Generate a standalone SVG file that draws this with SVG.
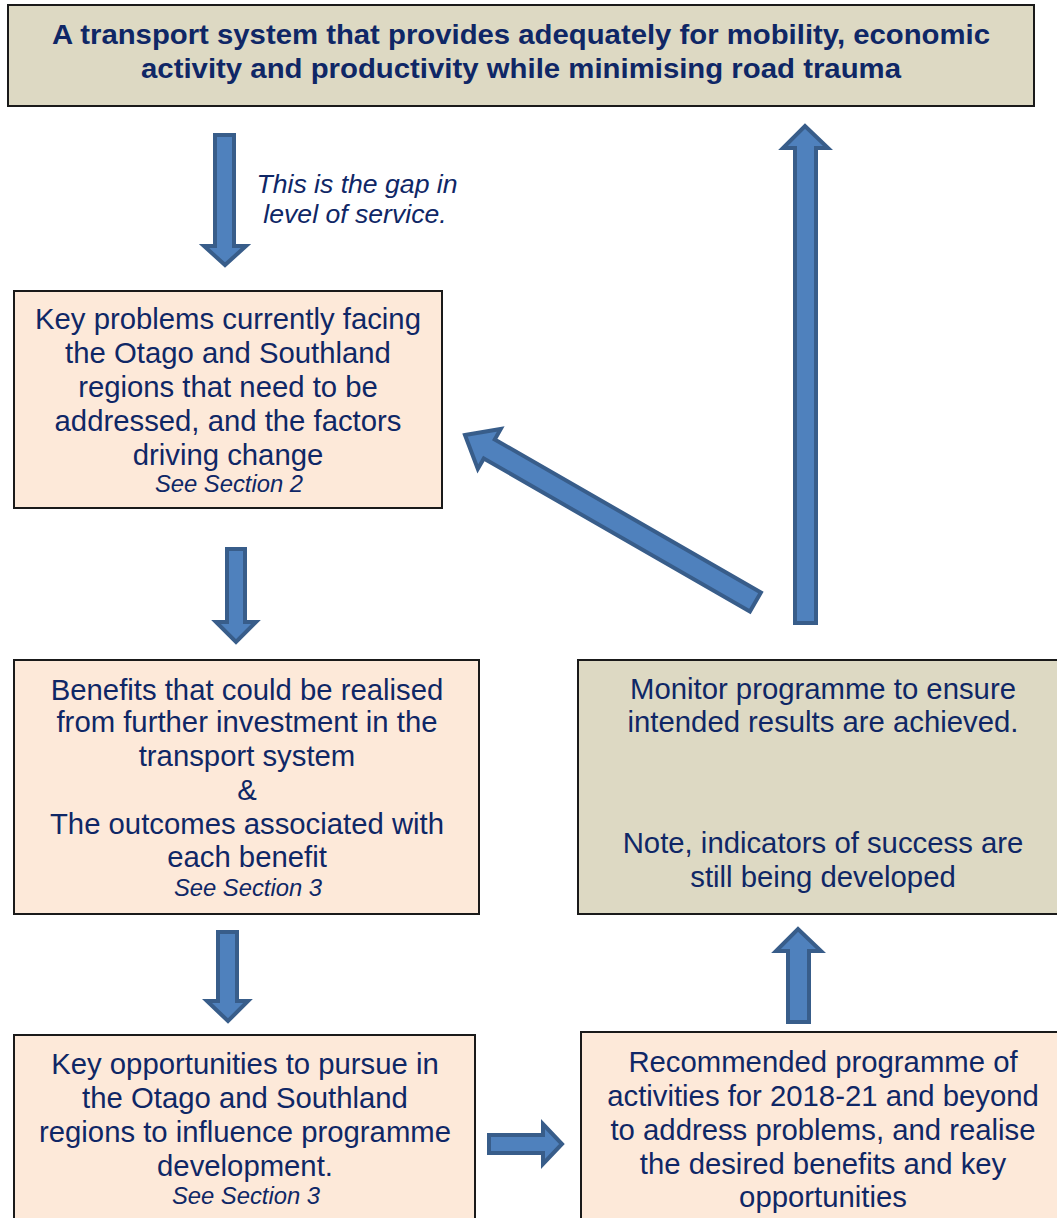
<svg xmlns="http://www.w3.org/2000/svg" width="1057" height="1218" viewBox="0 0 1057 1218">
<style>
.box{stroke:#1a1a1a;stroke-width:2}
.tan{fill:#ddd9c3}
.peach{fill:#fde9d9}
.t{font-family:"Liberation Sans",Arial,sans-serif;font-size:29.3px;fill:#0f2766;text-anchor:middle}
.title{font-family:"Liberation Sans",Arial,sans-serif;font-size:27px;font-weight:bold;fill:#0f2766;text-anchor:middle}
.it{font-family:"Liberation Sans",Arial,sans-serif;font-size:23.8px;font-style:italic;fill:#0f2766;text-anchor:middle}
.gap{font-family:"Liberation Sans",Arial,sans-serif;font-size:26.6px;font-style:italic;fill:#0f2766;text-anchor:middle}
.arr{fill:#4f81bd;stroke:#385d8a;stroke-width:4;stroke-linejoin:miter}
</style>
<rect width="1057" height="1218" fill="#ffffff"/>
<g id="goal">
<rect class="box tan" x="8" y="5" width="1026" height="101"/>
<text class="title" x="521" y="44" textLength="938" lengthAdjust="spacingAndGlyphs">A transport system that provides adequately for mobility, economic</text>
<text class="title" x="521" y="78" textLength="760" lengthAdjust="spacingAndGlyphs">activity and productivity while minimising road trauma</text>
</g>
<g id="problems">
<rect class="box peach" x="14" y="291" width="428" height="217"/>
<text class="t" x="228" y="329">Key problems currently facing</text>
<text class="t" x="228" y="363">the Otago and Southland</text>
<text class="t" x="228" y="397">regions that need to be</text>
<text class="t" x="228" y="431">addressed, and the factors</text>
<text class="t" x="228" y="465">driving change</text>
<text class="it" x="229" y="492">See Section 2</text>
</g>
<g id="benefits">
<rect class="box peach" x="14" y="660" width="465" height="254"/>
<text class="t" x="247" y="700">Benefits that could be realised</text>
<text class="t" x="247" y="732">from further investment in the</text>
<text class="t" x="247" y="766">transport system</text>
<text class="t" x="247" y="800">&amp;</text>
<text class="t" x="247" y="834">The outcomes associated with</text>
<text class="t" x="247" y="867">each benefit</text>
<text class="it" x="248" y="896">See Section 3</text>
</g>
<g id="monitor">
<rect class="box tan" x="578" y="660" width="490" height="254"/>
<text class="t" x="823" y="699">Monitor programme to ensure</text>
<text class="t" x="823" y="732">intended results are achieved.</text>
<text class="t" x="823" y="853">Note, indicators of success are</text>
<text class="t" x="823" y="887">still being developed</text>
</g>
<g id="opportunities">
<rect class="box peach" x="14" y="1035" width="461" height="200"/>
<text class="t" x="245" y="1074">Key opportunities to pursue in</text>
<text class="t" x="245" y="1108">the Otago and Southland</text>
<text class="t" x="245" y="1142">regions to influence programme</text>
<text class="t" x="245" y="1176">development.</text>
<text class="it" x="246" y="1204">See Section 3</text>
</g>
<g id="programme">
<rect class="box peach" x="581" y="1032" width="490" height="200"/>
<text class="t" x="823" y="1072">Recommended programme of</text>
<text class="t" x="823" y="1106">activities for 2018-21 and beyond</text>
<text class="t" x="823" y="1140">to address problems, and realise</text>
<text class="t" x="823" y="1174">the desired benefits and key</text>
<text class="t" x="823" y="1207">opportunities</text>
</g>
<g id="connectors">
<path class="arr" d="M215,135 L234,135 L234,246 L246,246 L225,265 L204,246 L215,246 Z"/>
<text class="gap" x="357" y="193">This is the gap in</text>
<text class="gap" x="355" y="223">level of service.</text>
<path class="arr" d="M227,549 L245,549 L245,622 L256,622 L236,642 L216,622 L227,622 Z"/>
<path class="arr" d="M218,932 L237,932 L237,1001 L248,1001 L228,1021 L207,1001 L218,1001 Z"/>
<path class="arr" d="M489,1135 L543,1135 L543,1124 L562,1144 L543,1164 L543,1153 L489,1153 Z"/>
<path class="arr" d="M788,1022 L809,1022 L809,951 L821,951 L798,929 L776,951 L788,951 Z"/>
<path class="arr" d="M795,623 L816,623 L816,148 L828,148 L805,126 L783,148 L795,148 Z"/>
<path class="arr" transform="translate(465,435) rotate(29.9)" d="M0,0 L28,-23 L28,-11 L335,-11 L335,11 L28,11 L28,23 Z"/>
</g>
</svg>
